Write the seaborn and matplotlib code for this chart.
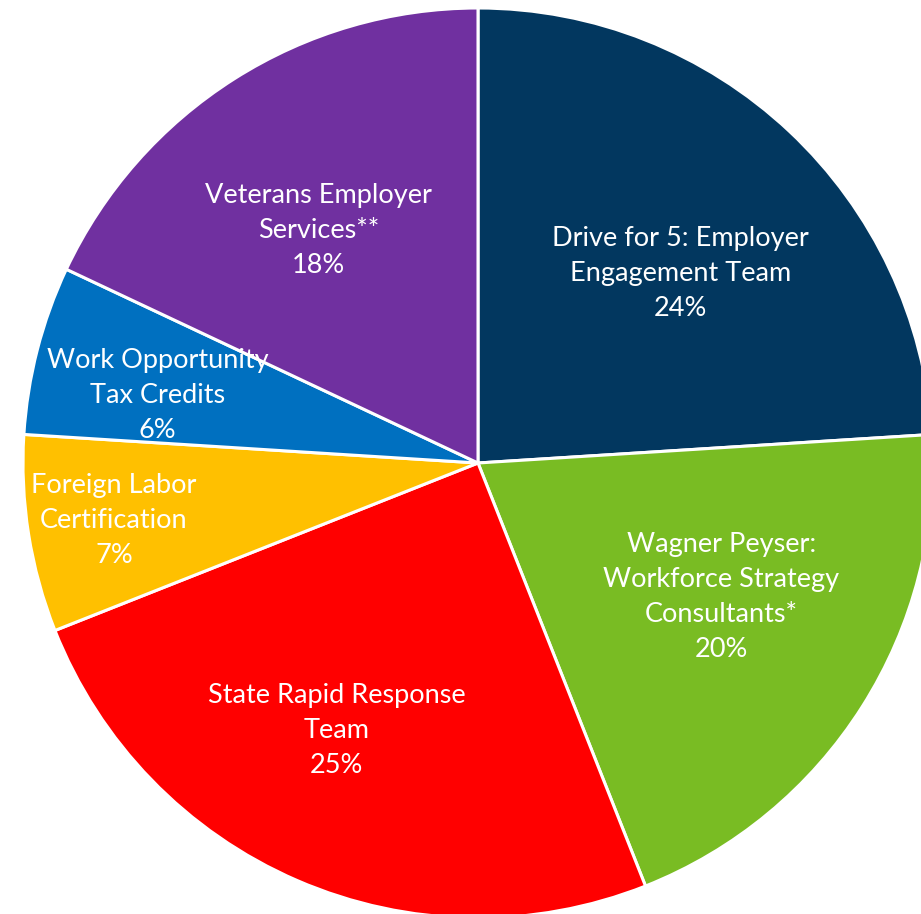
import matplotlib
matplotlib.use("Agg")
import matplotlib.pyplot as plt
import seaborn as sns
import numpy as np

sns.set_theme(style="white")
plt.rcParams["font.family"] = ["Lato", "DejaVu Sans"]

# Share of employer services by program
categories = [
    "Drive for 5: Employer\nEngagement Team",
    "Wagner Peyser:\nWorkforce Strategy\nConsultants*",
    "State Rapid Response\nTeam",
    "Foreign Labor\nCertification",
    "Work Opportunity\nTax Credits",
    "Veterans Employer\nServices**",
]
shares = [24, 20, 25, 7, 6, 18]
colors = ["#02375F", "#79BC23", "#FF0000", "#FFC000", "#0070C0", "#7030A0"]

# label placement: radial distance (fraction of radius) and small angle shift (deg)
label_dist = [0.61, 0.61, 0.665, 0.81, 0.72, 0.62]
label_shift = [-3.6, 3.6, -4.5, 0.0, 2.5, 2.0]

W, H, DPI = 921, 914, 100
cx, cy, R = 478, 463, 455

fig = plt.figure(figsize=(W / DPI, H / DPI), dpi=DPI)
ax = fig.add_axes([0, 0, 1, 1])
wedges, _ = ax.pie(
    shares,
    colors=colors,
    startangle=90,
    counterclock=False,
    radius=1.0,
    wedgeprops=dict(edgecolor="white", linewidth=2.2),
)

for w, cat, val, d, s in zip(wedges, categories, shares, label_dist, label_shift):
    mid = np.deg2rad((w.theta1 + w.theta2) / 2 + s)
    ax.text(
        d * np.cos(mid), d * np.sin(mid), f"{cat}\n{val}%",
        ha="center", va="center", color="white", fontsize=19.5,
        linespacing=1.5,
    )

ax.set_aspect("auto")
ax.set_xlim(-cx / R, (W - cx) / R)
ax.set_ylim(-(H - cy) / R, cy / R)
ax.axis("off")

fig.savefig("out.png", dpi=DPI, facecolor="white")
